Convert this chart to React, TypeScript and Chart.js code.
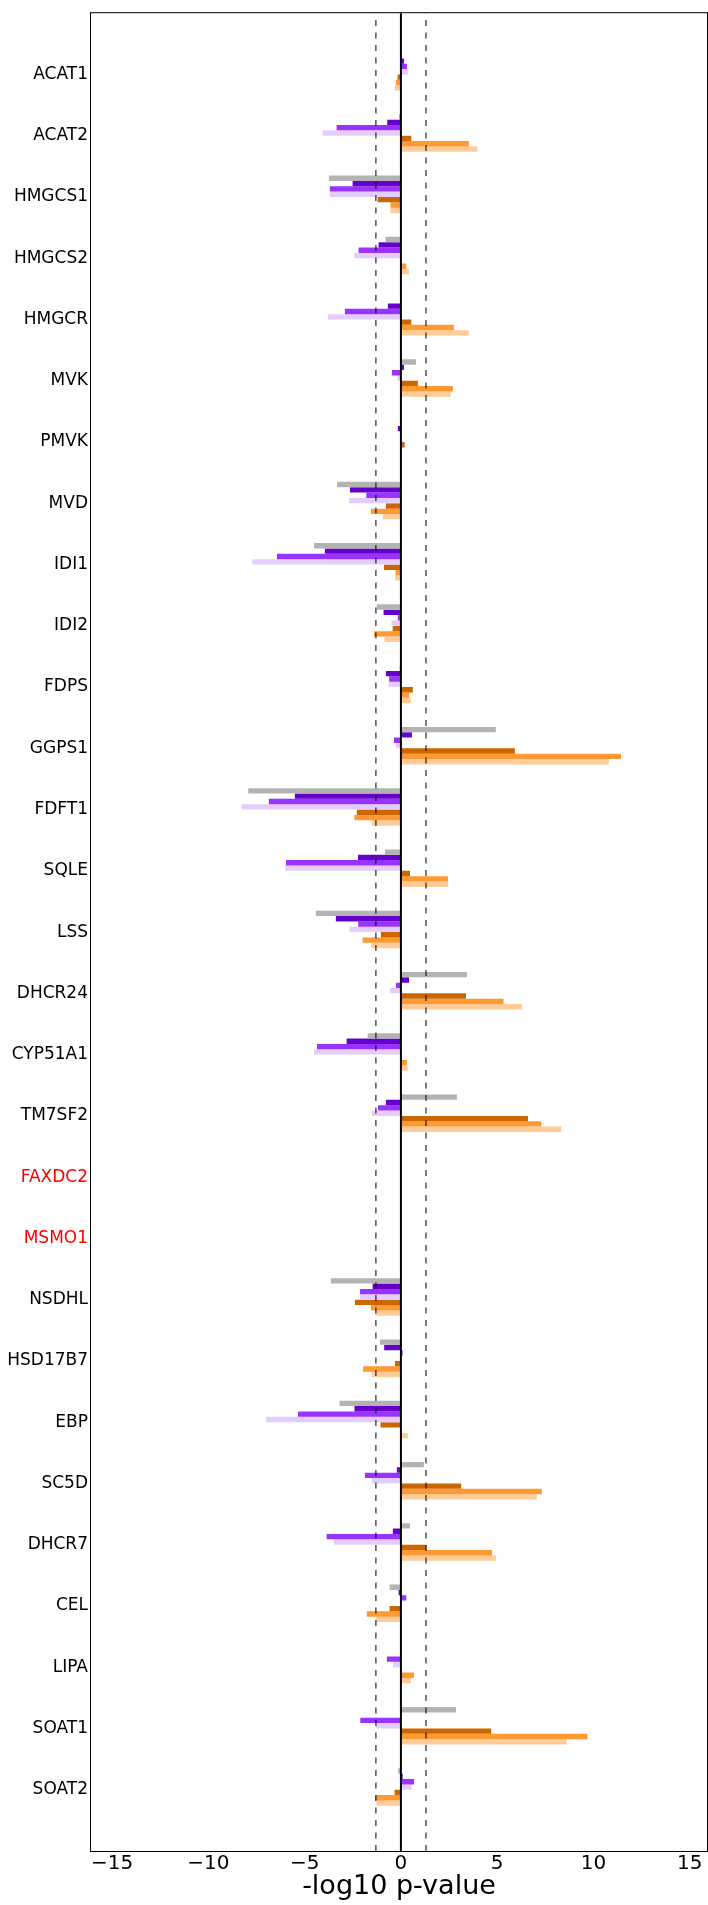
import React, { useEffect, useRef } from 'react';
import { Chart, registerables } from 'chart.js';

Chart.register(...registerables);

const genes = [
  'ACAT1', 'ACAT2', 'HMGCS1', 'HMGCS2', 'HMGCR', 'MVK', 'PMVK', 'MVD', 'IDI1', 'IDI2',
  'FDPS', 'GGPS1', 'FDFT1', 'SQLE', 'LSS', 'DHCR24', 'CYP51A1', 'TM7SF2', 'FAXDC2', 'MSMO1',
  'NSDHL', 'HSD17B7', 'EBP', 'SC5D', 'DHCR7', 'CEL', 'LIPA', 'SOAT1', 'SOAT2',
];
const highlightedGenes = ['FAXDC2', 'MSMO1'];
const xTickValues = [-15, -10, -5, 0, 5, 10, 15];
const significanceLines = [-1.301, 1.301];

const greyValues = [0, -0.1, -3.74, -0.8, 0, 0.78, 0, -3.32, -4.52, -1.25, -0.07, 4.93, -7.93, -0.83, -4.42, 3.43, -1.73, 2.91, null, null, -3.64, -1.09, -3.19, 1.19, 0.47, -0.59, 0, 2.86, -0.14];
const darkPurpleValues = [0.16, -0.71, -2.51, -1.16, -0.68, 0.16, -0.16, -2.65, -3.95, -0.9, -0.78, 0.57, -5.51, -2.23, -3.38, 0.42, -2.82, -0.78, null, null, -1.47, -0.87, -2.41, -0.21, -0.42, -0.12, 0, 0, 0.09];
const purpleValues = [0.31, -3.34, -3.69, -2.2, -2.91, -0.47, 0, -1.8, -6.44, -0.16, -0.61, -0.36, -6.86, -5.97, -2.22, -0.26, -4.36, -1.19, null, null, -2.13, 0.09, -5.35, -1.87, -3.86, 0.28, -0.73, -2.11, 0.68];
const lightPurpleValues = [0.36, -4.07, -3.69, -2.42, -3.79, -0.17, 0, -2.7, -7.72, -0.5, -0.64, -0.26, -8.28, -6.01, -2.67, -0.57, -4.52, -1.51, null, null, -2.13, 0, -7.01, -1.51, -3.48, 0, -0.4, -1.29, 0.54];
const darkOrangeValues = [-0.17, 0.54, -1.21, 0, 0.54, 0.88, 0.19, -0.78, -0.88, -0.43, 0.62, 5.92, -2.29, 0.47, -1.04, 3.38, 0, 6.6, null, null, -2.39, -0.31, -1.06, 3.13, 1.32, -0.59, 0, 4.69, -0.33];
const orangeValues = [-0.26, 3.53, -0.54, 0.28, 2.75, 2.7, 0.05, -1.56, -0.28, -1.4, 0.43, 11.43, -2.42, 2.44, -1.99, 5.33, 0.31, 7.29, null, null, -1.56, -1.97, 0, 7.32, 4.73, -1.77, 0.68, 9.69, -1.34];
const lightOrangeValues = [-0.31, 3.97, -0.55, 0.42, 3.52, 2.58, 0.02, -0.94, -0.3, -0.85, 0.52, 10.8, -1.52, 2.46, -1.54, 6.3, 0.35, 8.33, null, null, -1.33, -1.51, 0.36, 7.06, 4.94, -1.28, 0.52, 8.61, -1.27];

const seriesNames = ['grey', 'dark purple', 'purple', 'light purple', 'dark orange', 'orange', 'light orange'];
const seriesValues = [greyValues, darkPurpleValues, purpleValues, lightPurpleValues, darkOrangeValues, orangeValues, lightOrangeValues];
const seriesColors = ['#b3b3b3', '#6600cc', '#9933ff', '#e5ccff', '#cc6600', '#ff9933', '#ffcc99'];

const FONT = "'DejaVu Sans', 'Liberation Sans', sans-serif";

const overlayPlugin = {
  id: 'overlayLines',
  afterDatasetsDraw(chart: any) {
    const { ctx, chartArea: a, scales } = chart;
    const x = scales.x;
    ctx.save();
    // dashed significance lines
    ctx.setLineDash([6, 6.5]);
    ctx.lineWidth = 1.5;
    ctx.strokeStyle = 'rgba(0,0,0,0.68)';
    for (const v of significanceLines) {
      const px = x.getPixelForValue(v);
      ctx.beginPath();
      ctx.moveTo(px, a.bottom);
      ctx.lineTo(px, a.top);
      ctx.stroke();
    }
    // zero line
    ctx.setLineDash([]);
    ctx.lineWidth = 2;
    ctx.strokeStyle = '#000';
    const z = x.getPixelForValue(0);
    ctx.beginPath();
    ctx.moveTo(z, a.top);
    ctx.lineTo(z, a.bottom);
    ctx.stroke();
    // frame
    ctx.lineWidth = 1;
    ctx.strokeStyle = '#000';
    ctx.strokeRect(a.left - 0.5, a.top - 0.5, a.right - a.left + 1, a.bottom - a.top + 1);
    ctx.restore();
  },
};

export default function App() {
  const ref = useRef<HTMLCanvasElement>(null);

  useEffect(() => {
    if (!ref.current) return;
    const labels = ['', ...genes, ''];
    const pad = (arr: (number | null)[]) => [null, ...arr, null];
    const datasets: any[] = seriesValues.map((vals, i) => ({
      label: seriesNames[i],
      data: pad(vals),
      backgroundColor: seriesColors[i],
      borderWidth: 0,
      categoryPercentage: 0.7,
      barPercentage: 1.0,
    }));
    // empty slot so the group of 7 sits slightly above the label centre
    datasets.push({
      label: 'spacer',
      data: labels.map(() => null),
      backgroundColor: 'rgba(0,0,0,0)',
      borderWidth: 0,
      categoryPercentage: 0.7,
      barPercentage: 1.0,
    });

    const chart = new Chart(ref.current, {
      type: 'bar',
      data: { labels, datasets },
      options: {
        indexAxis: 'y',
        responsive: false,
        animation: false,
        layout: { padding: { top: 8, right: 1, left: 0, bottom: 0 } },
        plugins: {
          legend: { display: false },
          tooltip: { enabled: false },
          title: { display: false },
        },
        scales: {
          x: {
            type: 'linear',
            position: 'bottom',
            min: -16.1,
            max: 15.9,
            grid: { display: false, drawTicks: false },
            border: { display: false },
            afterBuildTicks: (s: any) => {
              s.ticks = xTickValues.map((v) => ({ value: v }));
            },
            afterFit: (s: any) => {
              s.height = 54;
            },
            ticks: {
              autoSkip: false,
              maxRotation: 0,
              padding: 1,
              color: '#000',
              font: { family: FONT, size: 20 },
              callback: (v: any) => (Number(v) < 0 ? '\u2212' + Math.abs(Number(v)) : String(v)),
            },
            title: {
              display: true,
              text: '-log10 p-value',
              color: '#000',
              font: { family: FONT, size: 27 },
              padding: { top: 0, bottom: 2 },
            },
          },
          y: {
            type: 'category',
            offset: false,
            grid: { display: false, drawTicks: false },
            border: { display: false },
            afterFit: (s: any) => {
              s.width = 91;
            },
            ticks: {
              autoSkip: false,
              padding: 3,
              font: { family: FONT, size: 17 },
              color: (c: any) => (c.tick && highlightedGenes.includes(c.tick.label) ? '#ff0000' : '#000'),
            },
          },
        },
      } as any,
      plugins: [overlayPlugin],
    });
    return () => chart.destroy();
  }, []);

  return (
    <canvas
      ref={ref}
      width={708}
      height={1905}
      style={{ position: 'absolute', left: 0, top: 0, display: 'block' }}
    />
  );
}
